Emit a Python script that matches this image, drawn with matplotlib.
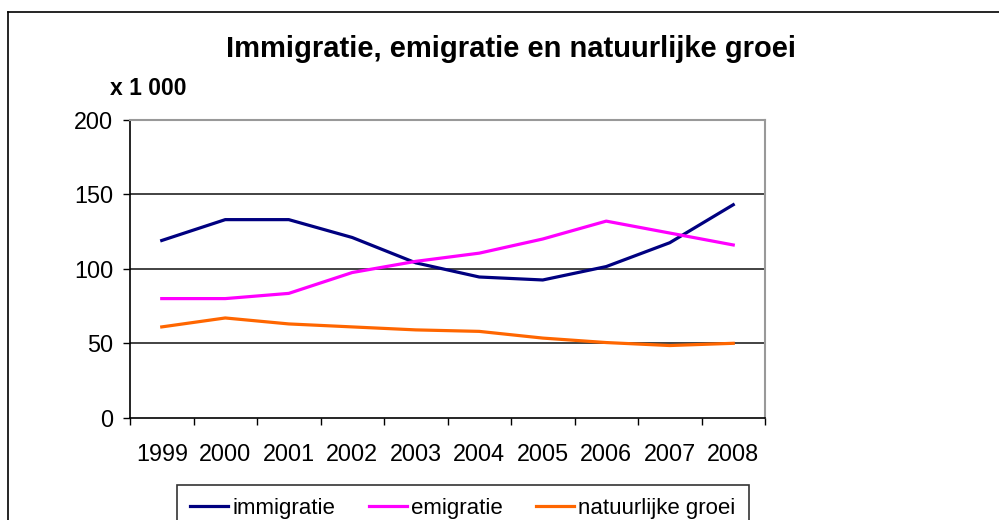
import matplotlib.pyplot as plt
from matplotlib.lines import Line2D

plt.rcParams['font.family'] = ['Liberation Sans', 'DejaVu Sans']

years = ['1999', '2000', '2001', '2002', '2003', '2004', '2005', '2006', '2007', '2008']
immigratie = [119, 133, 133, 121, 104, 94.5, 92.5, 101.5, 117.5, 143]
emigratie = [80, 80, 83.5, 97.5, 105, 110.5, 120, 132, 124, 116]
natuurlijke_groei = [61, 67, 63, 61, 59, 58, 53.5, 50.5, 48.5, 50]

fig = plt.figure(figsize=(9.99, 5.2), dpi=100)
ax = fig.add_axes([130 / 999, 1 - 417.8 / 520, 635 / 999, 298 / 520])

x = list(range(len(years)))
ax.plot(x, immigratie, color='#000080', lw=2.3, label='immigratie', solid_joinstyle='round')
ax.plot(x, emigratie, color='#FF00FF', lw=2.3, label='emigratie', solid_joinstyle='round')
ax.plot(x, natuurlijke_groei, color='#FF6600', lw=2.3, label='natuurlijke groei', solid_joinstyle='round')

ax.set_xlim(-0.5, len(years) - 0.5)
ax.set_ylim(0, 200)
ax.set_yticks([0, 50, 100, 150, 200])
ax.set_xticks([i - 0.5 for i in range(len(years) + 1)], minor=False)
ax.set_xticklabels([''] * (len(years) + 1))
ax.set_xticks(x, minor=True)
ax.set_xticklabels(years, minor=True)
ax.tick_params(axis='x', which='major', direction='out', length=5, width=1, color='black')
ax.tick_params(axis='x', which='minor', length=0, pad=18, labelsize=16.8)
ax.tick_params(axis='y', direction='out', length=5, width=1, color='black', pad=7, labelsize=16.8)

for v in [50, 100, 150]:
    ax.axhline(v, color='#222222', lw=1.2, zorder=0)

ax.spines['left'].set_color('black')
ax.spines['bottom'].set_color('black')
ax.spines['left'].set_linewidth(1.2)
ax.spines['bottom'].set_linewidth(1.2)
ax.spines['top'].set_color('#999999')
ax.spines['right'].set_color('#999999')
ax.spines['top'].set_linewidth(1.5)
ax.spines['right'].set_linewidth(1.5)

fig.text(511 / 999, 1 - 49 / 520, 'Immigratie, emigratie en natuurlijke groei',
         ha='center', va='center', fontsize=21, fontweight='bold')
fig.text(110 / 999, 1 - 88 / 520, 'x 1 000', ha='left', va='center',
         fontsize=16.5, fontweight='bold')

leg = ax.legend(loc='upper left', bbox_to_anchor=(177 / 999, 1 - 484.5 / 520),
                bbox_transform=fig.transFigure, ncol=3, fontsize=16,
                frameon=True, fancybox=False, handlelength=1.7, handletextpad=0.2,
                columnspacing=1.5, borderpad=0.6, borderaxespad=0)
leg.get_frame().set_edgecolor('black')
leg.get_frame().set_linewidth(1.2)

# outer chart border (right and bottom fall outside the picture)
fig.add_artist(Line2D([8 / 999, 8 / 999], [-0.1, 1 - 12 / 520], color='black', lw=1.2,
                      transform=fig.transFigure))
fig.add_artist(Line2D([8 / 999, 1.1], [1 - 12 / 520, 1 - 12 / 520], color='black', lw=1.2,
                      transform=fig.transFigure))

fig.savefig('out.png', dpi=100)
